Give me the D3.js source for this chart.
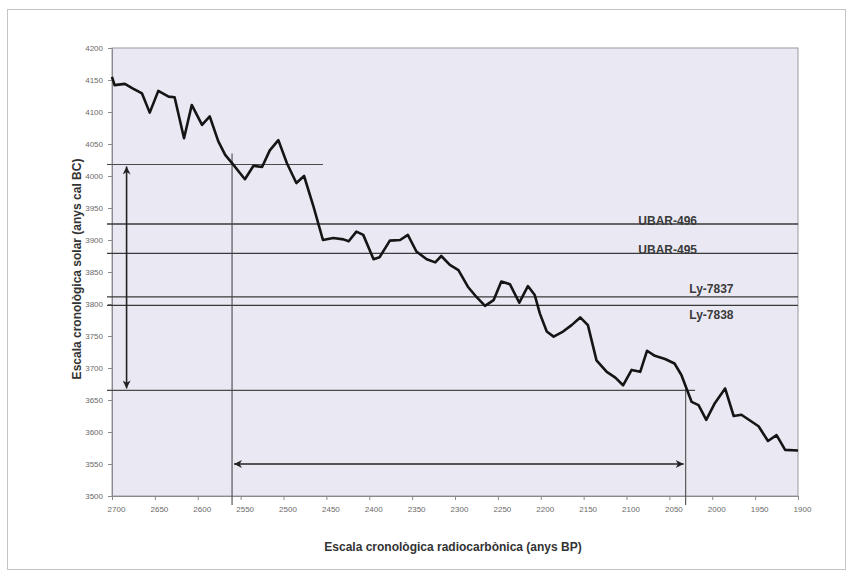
<!DOCTYPE html>
<html>
<head>
<meta charset="utf-8">
<script src="https://cdn.jsdelivr.net/npm/d3@7/dist/d3.min.js"></script>
<style>
  html, body { margin: 0; padding: 0; background: #fff; }
  svg { display: block; }
  text { font-family: "Liberation Sans", Arial, sans-serif; }
</style>
</head>
<body>
<svg id="chart" width="853" height="579"></svg>
<script>
// Calibration curve: radiocarbon age (BP) -> calendar age (cal BC)
const curveYearsBP = [2700, 2697, 2685, 2676, 2665, 2656, 2646, 2634, 2627, 2616, 2607, 2595, 2586, 2576, 2568, 2560, 2545, 2535, 2525, 2516, 2506, 2496, 2485, 2476, 2465, 2454, 2442, 2430, 2424, 2415, 2407, 2395, 2388, 2376, 2364, 2355, 2345, 2333, 2323, 2316, 2306, 2296, 2285, 2275, 2265, 2255, 2246, 2236, 2225, 2215, 2207, 2201, 2193, 2185, 2174, 2164, 2154, 2145, 2135, 2123, 2113, 2104, 2094, 2084, 2076, 2067, 2055, 2044, 2036, 2024, 2016, 2007, 1997, 1985, 1975, 1966, 1956, 1946, 1935, 1925, 1915, 1900];
const curveCalBC = [4155, 4142, 4144, 4137, 4129, 4099, 4133, 4124, 4123, 4059, 4111, 4080, 4093, 4054, 4033, 4020, 3995, 4016, 4014, 4040, 4056, 4020, 3989, 4000, 3952, 3900, 3903, 3901, 3898, 3913, 3908, 3870, 3873, 3899, 3900, 3908, 3882, 3870, 3865, 3875, 3861, 3853, 3827, 3811, 3797, 3806, 3835, 3831, 3802, 3828, 3814, 3785, 3757, 3749, 3757, 3767, 3779, 3767, 3712, 3694, 3685, 3673, 3697, 3694, 3727, 3719, 3714, 3707, 3689, 3647, 3642, 3619, 3645, 3668, 3625, 3627, 3618, 3609, 3586, 3595, 3572, 3571];

// Sample dates drawn as horizontal reference lines
const sampleLabels = ["UBAR-496", "UBAR-495", "Ly-7837", "Ly-7838"];
const sampleCalBC = [3925, 3879, 3811, 3798];
const sampleLabelBP = [2052, 2052, 2001, 2001];
const sampleLabelShift = [1, 1, -4, 14];   // baseline offset from the line, px

// Interval markers
const rangeCalBC = [4018, 3665];        // upper and lower calendar bounds
const rangeBP = [2560, 2031];           // radiocarbon bounds
const rangeLineEndBP = [2454, 2020];    // where the bound lines stop
const arrowBP = 2683;                   // vertical arrow position
const arrowCalBC = 3550;                // horizontal arrow level

// Axis ticks
const xTicks = d3.range(2700, 1899, -50);
const yTicks = d3.range(3500, 4201, 50);

const xTitle = "Escala cronològica radiocarbònica (anys BP)";
const yTitle = "Escala cronològica solar (anys cal BC)";

const svg = d3.select("#chart");
const W = 853, H = 579;
const plot = { left: 112, right: 798, top: 48, bottom: 496 };

const x = d3.scaleLinear().domain([2700, 1900]).range([plot.left, plot.right]);
const y = d3.scaleLinear().domain([3500, 4200]).range([plot.bottom, plot.top]);

// Outer frame
svg.append("rect")
  .attr("x", 7.5).attr("y", 9.5).attr("width", W - 15).attr("height", H - 19)
  .attr("fill", "#fff").attr("stroke", "#c4c4c4").attr("stroke-width", 1);

// Plot background
svg.append("rect")
  .attr("x", plot.left).attr("y", plot.top)
  .attr("width", plot.right - plot.left).attr("height", plot.bottom - plot.top)
  .attr("fill", "#eae9f3").attr("stroke", "#9a9a9e").attr("stroke-width", 1);

// Axes
const xAxis = d3.axisBottom(x).tickValues(xTicks).tickSize(4).tickPadding(6).tickFormat(d3.format("d"));
const yAxis = d3.axisLeft(y).tickValues(yTicks).tickSize(4).tickPadding(5).tickFormat(d3.format("d"));

const gx = svg.append("g").attr("transform", `translate(0,${plot.bottom})`).call(xAxis);
const gy = svg.append("g").attr("transform", `translate(${plot.left},0)`).call(yAxis);
[gx, gy].forEach(g => {
  g.select(".domain").attr("stroke", "#8a8a8e");
  g.selectAll(".tick line").attr("stroke", "#8a8a8e");
  g.selectAll(".tick text").attr("fill", "#6a6a6a").attr("font-size", "8px")
    .attr("font-family", "'Liberation Sans', Arial, sans-serif");
});
gx.selectAll(".tick text").attr("dx", "4px");

// Reference lines for the sample dates
const refG = svg.append("g");
sampleCalBC.forEach((v, i) => {
  refG.append("text")
    .attr("x", x(sampleLabelBP[i])).attr("y", y(v) + sampleLabelShift[i])
    .attr("text-anchor", "middle")
    .attr("font-size", "12px").attr("font-weight", "bold").attr("fill", "#3a3a3a")
    .text(sampleLabels[i]);
  refG.append("line")
    .attr("x1", x(2700) - 5).attr("x2", x(1900))
    .attr("y1", y(v)).attr("y2", y(v))
    .attr("stroke", "#3a3a3a").attr("stroke-width", 1.3);
});

// Calendar bounds (horizontal) and radiocarbon bounds (vertical)
rangeCalBC.forEach((v, i) => {
  refG.append("line")
    .attr("x1", x(2700) - 5).attr("x2", x(rangeLineEndBP[i]))
    .attr("y1", y(v)).attr("y2", y(v))
    .attr("stroke", "#4a4a4a").attr("stroke-width", 1.1);
});
refG.append("line")
  .attr("x1", x(rangeBP[0])).attr("x2", x(rangeBP[0]))
  .attr("y1", y(rangeCalBC[0]) - 11).attr("y2", plot.bottom + 9)
  .attr("stroke", "#4a4a4a").attr("stroke-width", 1.1);
refG.append("line")
  .attr("x1", x(rangeBP[1])).attr("x2", x(rangeBP[1]))
  .attr("y1", y(rangeCalBC[1]) - 2).attr("y2", plot.bottom + 9)
  .attr("stroke", "#4a4a4a").attr("stroke-width", 1.1);

// Arrowheads
const defs = svg.append("defs");
defs.append("marker")
  .attr("id", "arrow").attr("viewBox", "0 0 10 10")
  .attr("refX", 10).attr("refY", 5)
  .attr("markerWidth", 9).attr("markerHeight", 8)
  .attr("markerUnits", "userSpaceOnUse")
  .attr("orient", "auto-start-reverse")
  .append("path").attr("d", "M0,0 L10,5 L0,10 L3,5 Z").attr("fill", "#222");

svg.append("line")
  .attr("x1", x(arrowBP)).attr("x2", x(arrowBP))
  .attr("y1", y(rangeCalBC[0]) + 2).attr("y2", y(rangeCalBC[1]) - 2)
  .attr("stroke", "#222").attr("stroke-width", 1.6)
  .attr("marker-start", "url(#arrow)").attr("marker-end", "url(#arrow)");

svg.append("line")
  .attr("x1", x(rangeBP[0]) + 2).attr("x2", x(rangeBP[1]) - 2)
  .attr("y1", y(arrowCalBC)).attr("y2", y(arrowCalBC))
  .attr("stroke", "#222").attr("stroke-width", 1.6)
  .attr("marker-start", "url(#arrow)").attr("marker-end", "url(#arrow)");

// Calibration curve
const curve = curveYearsBP.map((d, i) => [d, curveCalBC[i]]);
svg.append("path")
  .datum(curve)
  .attr("fill", "none").attr("stroke", "#151515").attr("stroke-width", 2.6)
  .attr("stroke-linejoin", "round")
  .attr("d", d3.line().x(d => x(d[0])).y(d => y(d[1])));

// Axis titles
svg.append("text")
  .attr("x", 453).attr("y", 551)
  .attr("text-anchor", "middle").attr("font-size", "12px").attr("font-weight", "bold")
  .attr("fill", "#333").text(xTitle);

svg.append("text")
  .attr("transform", `translate(81,269) rotate(-90)`)
  .attr("text-anchor", "middle").attr("font-size", "12px").attr("font-weight", "bold")
  .attr("fill", "#333").text(yTitle);
</script>
</body>
</html>
